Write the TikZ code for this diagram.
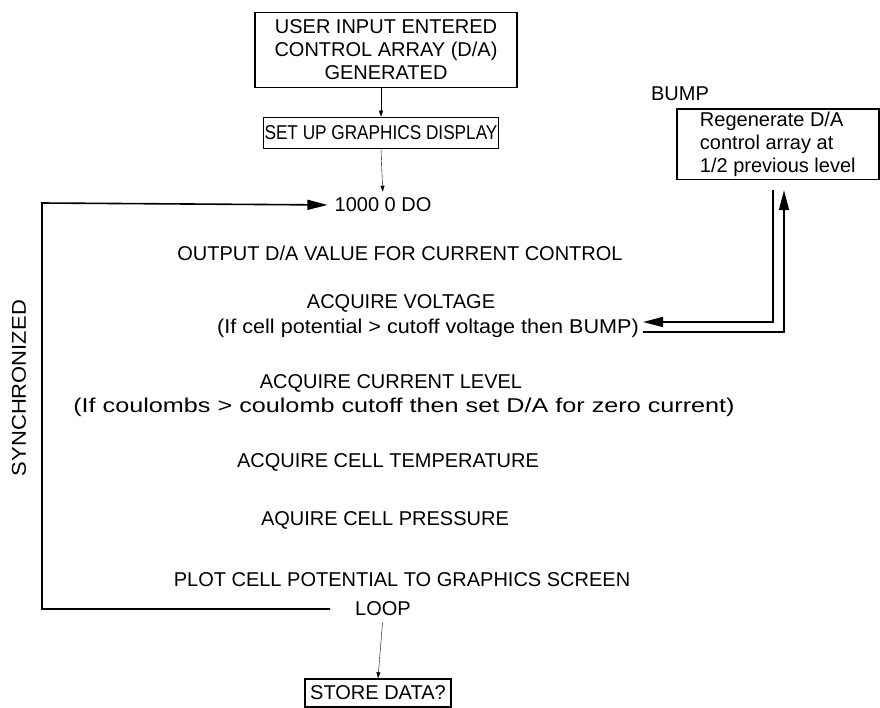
\documentclass[tikz,border=0pt]{standalone}
\usepackage{fontspec}
\setmainfont{Liberation Sans}
\usetikzlibrary{arrows.meta}
\begin{document}
\begin{tikzpicture}[x=1pt,y=-1pt,
  txt/.style={font=\fontsize{20}{23}\selectfont, inner sep=0pt, align=center},
  boxed/.style={draw, line width=1.6pt, align=center, font=\fontsize{20}{23}\selectfont, inner sep=3pt},
  ln/.style={line width=1.6pt},
  big/.style={-{Triangle[length=20pt,width=10pt]}},
  small/.style={-{Triangle[length=6pt,width=4pt]}}]
\useasboundingbox (0,0) rectangle (880,707);
\node[boxed, minimum width=262pt, minimum height=75pt] (user) at (386,50) {USER INPUT ENTERED\\CONTROL ARRAY (D/A)\\GENERATED};
\node[boxed, minimum width=234pt, minimum height=31pt, inner sep=1pt] (setup) at (381,133) {\scalebox{0.86}[1]{SET UP GRAPHICS DISPLAY}};
\node[txt] (do) at (383,205) {1000 0 DO};
\node[txt] (out) at (400,253) {OUTPUT D/A VALUE FOR CURRENT CONTROL};
\node[txt] (av) at (401,303) {ACQUIRE VOLTAGE};
\node[txt] (avif) at (428,328) {\scalebox{1.08}[1]{(If cell potential > cutoff voltage then BUMP)}};
\node[txt] (ac) at (391,383) {ACQUIRE CURRENT LEVEL};
\node[txt] (acif) at (404,407) {\scalebox{1.26}[1]{(If coulombs > coulomb cutoff then set D/A for zero current)}};
\node[txt] (at) at (388,462) {ACQUIRE CELL TEMPERATURE};
\node[txt] (ap) at (385,520) {AQUIRE CELL PRESSURE};
\node[txt] (plot) at (402,580) {PLOT CELL POTENTIAL TO GRAPHICS SCREEN};
\node[txt] (loop) at (383,609) {LOOP};
\node[txt, rotate=90] (sync) at (19,388) {\scalebox{1.1}[1]{SYNCHRONIZED}};
\node[boxed, minimum width=146pt, minimum height=28pt, inner sep=1pt] (store) at (378,693) {STORE DATA?};
\node[txt] (bumpl) at (680,94) {BUMP};
\node[boxed, align=left, anchor=north west, minimum width=202pt, minimum height=70pt, inner sep=3pt] (bump) at (676,108) {Regenerate D/A\\control array at\\1/2 previous level};
\coordinate (tl) at (42,203);
\coordinate (bl) at (42,609);
\coordinate (i1) at (773,322);
\coordinate (o1) at (784,332);
\draw[small] (user.south -| setup.north) -- (setup.north);
\draw[small, shorten >=6pt] (setup.south) -- (do.north);
\draw[ln, big, shorten <=25pt, shorten >=7pt] (loop.west) -- (bl) -- (tl) -- (do.west);
\draw[small, shorten <=6pt] (loop.south) -- (store.north);
\draw[ln, big, shorten <=10pt, shorten >=4pt] (bump.south -| i1) -- (i1) -- (i1 -| avif.east);
\draw[ln, big, shorten <=4pt, shorten >=10pt] (o1 -| avif.east) -- (o1) -- (bump.south -| o1);
\end{tikzpicture}
\end{document}
